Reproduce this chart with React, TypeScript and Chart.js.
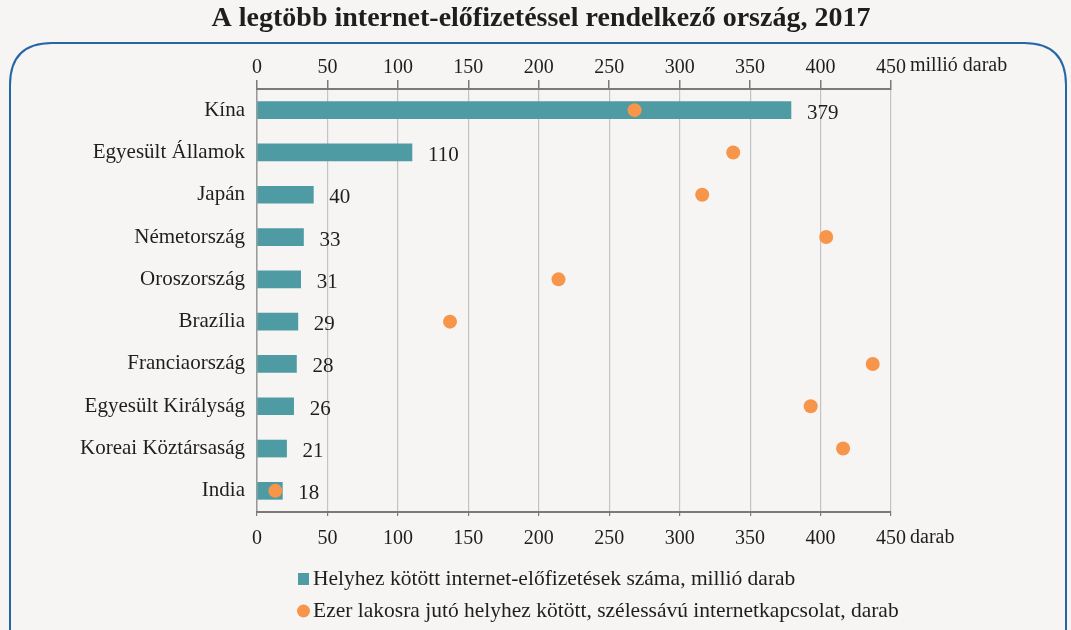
import React, { useEffect, useRef } from "react";
import { Chart, registerables } from "chart.js";

Chart.register(...registerables);

const titleText = "A legtöbb internet-előfizetéssel rendelkező ország, 2017";
const categories = [
  "Kína",
  "Egyesült Államok",
  "Japán",
  "Németország",
  "Oroszország",
  "Brazília",
  "Franciaország",
  "Egyesült Királyság",
  "Koreai Köztársaság",
  "India",
];
const subscriptions = [379, 110, 40, 33, 31, 29, 28, 26, 21, 18];
const perThousand = [268, 338, 316, 404, 214, 137, 437, 393, 416, 13];
const axisMin = 0;
const axisMax = 450;
const axisStep = 50;
const topUnit = "millió darab";
const bottomUnit = "darab";
const seriesNames = [
  "Helyhez kötött internet-előfizetések száma, millió darab",
  "Ezer lakosra jutó helyhez kötött, szélessávú internetkapcsolat, darab",
];

const FONT = "'Liberation Serif', 'DejaVu Serif', serif";
const BG = "#f6f5f3";
const TEAL = "#4e9ba3";
const ORANGE = "#f7964a";
const TEXT = "#1e1e1e";

const decorPlugin = {
  id: "decor",
  beforeDraw(chart: any) {
    const ctx = chart.ctx;
    ctx.save();
    ctx.fillStyle = BG;
    ctx.fillRect(0, 0, chart.width, chart.height);
    // rounded frame
    const x0 = 10, y0 = 43, x1 = 1066, y1 = 680, r = 42;
    ctx.strokeStyle = "#2566a8";
    ctx.lineWidth = 2;
    ctx.beginPath();
    ctx.moveTo(x0, y1);
    ctx.lineTo(x0, y0 + r);
    ctx.quadraticCurveTo(x0, y0, x0 + r, y0);
    ctx.lineTo(x1 - r, y0);
    ctx.quadraticCurveTo(x1, y0, x1, y0 + r);
    ctx.lineTo(x1, y1);
    ctx.stroke();
    // title
    ctx.fillStyle = TEXT;
    ctx.font = `bold 28px ${FONT}`;
    ctx.textAlign = "center";
    ctx.textBaseline = "middle";
    ctx.fillText(titleText, 541, 19);
    ctx.restore();
  },
  afterDatasetsDraw(chart: any) {
    const ctx = chart.ctx;
    ctx.save();
    ctx.fillStyle = TEXT;
    ctx.font = `21px ${FONT}`;
    ctx.textAlign = "left";
    ctx.textBaseline = "middle";
    const meta = chart.getDatasetMeta(0);
    meta.data.forEach((el: any, i: number) => {
      ctx.fillText(String(subscriptions[i]), el.x + 16, el.y + 3);
    });
    ctx.restore();
  },
  afterDraw(chart: any) {
    const ctx = chart.ctx;
    ctx.save();
    ctx.fillStyle = TEXT;
    ctx.font = `20px ${FONT}`;
    ctx.textBaseline = "middle";
    ctx.textAlign = "left";
    const lastW = ctx.measureText(String(axisMax)).width;
    const top = chart.scales.x2;
    const bot = chart.scales.x;
    const px = top.getPixelForValue(axisMax) + lastW / 2 + 4;
    ctx.fillText(topUnit, px, 66);
    const pb = bot.getPixelForValue(axisMax) + lastW / 2 + 4;
    ctx.fillText(bottomUnit, pb, 538);
    // legend
    ctx.font = `21.5px ${FONT}`;
    ctx.fillStyle = TEAL;
    ctx.fillRect(298, 573, 11, 12);
    ctx.fillStyle = ORANGE;
    ctx.beginPath();
    ctx.arc(303.5, 611, 6.5, 0, Math.PI * 2);
    ctx.fill();
    ctx.fillStyle = TEXT;
    ctx.fillText(seriesNames[0], 313, 579);
    ctx.fillText(seriesNames[1], 313, 611);
    ctx.restore();
  },
};

export default function App() {
  const ref = useRef<HTMLCanvasElement | null>(null);
  useEffect(() => {
    if (!ref.current) return;
    Chart.defaults.font.family = FONT;
    Chart.defaults.color = TEXT;
    const chart = new Chart(ref.current, {
      type: "bar",
      data: {
        labels: categories,
        datasets: [
          {
            type: "bar",
            label: seriesNames[0],
            data: subscriptions,
            backgroundColor: TEAL,
            barThickness: 17,
            xAxisID: "x",
            order: 2,
          },
          {
            type: "line",
            label: seriesNames[1],
            data: perThousand,
            showLine: false,
            pointRadius: 7,
            pointBackgroundColor: ORANGE,
            pointBorderColor: ORANGE,
            pointBorderWidth: 0,
            backgroundColor: ORANGE,
            borderColor: ORANGE,
            xAxisID: "x",
            indexAxis: "y",
            order: 1,
          } as any,
        ],
      },
      options: {
        indexAxis: "y",
        animation: false,
        responsive: false,
        devicePixelRatio: 1,
        layout: { padding: { left: 0, top: 0, right: 180, bottom: 0 } },
        plugins: {
          legend: { display: false },
          title: { display: false },
          tooltip: { enabled: false },
        },
        scales: {
          y: {
            type: "category",
            offset: true,
            afterFit: (s: any) => {
              s.width = 257;
            },
            grid: { display: false, drawTicks: false },
            border: { display: true, color: "#9a9a9a", width: 1.5 },
            ticks: { font: { size: 21, family: FONT }, color: TEXT, padding: 12 },
          },
          x: {
            type: "linear",
            position: "bottom",
            min: axisMin,
            max: axisMax,
            afterFit: (s: any) => {
              s.height = 118;
            },
            grid: { color: "#c3c3c3", lineWidth: 1.2, tickLength: 4, tickColor: "#7a7a7a" },
            border: { display: true, color: "#7a7a7a", width: 2 },
            ticks: { stepSize: axisStep, font: { size: 20, family: FONT }, color: TEXT, padding: 11, maxRotation: 0 },
          },
          x2: {
            type: "linear",
            position: "top",
            min: axisMin,
            max: axisMax,
            afterFit: (s: any) => {
              s.height = 89;
            },
            grid: { drawOnChartArea: false, tickLength: 9, tickColor: "#7a7a7a", lineWidth: 1.5 },
            border: { display: true, color: "#7a7a7a", width: 2 },
            ticks: { stepSize: axisStep, font: { size: 20, family: FONT }, color: TEXT, padding: 0, maxRotation: 0 },
          },
        },
      } as any,
      plugins: [decorPlugin],
    });
    return () => chart.destroy();
  }, []);
  return (
    <div style={{ position: "fixed", left: 0, top: 0, width: 1071, height: 630, background: BG }}>
      <canvas ref={ref} width={1071} height={630} style={{ display: "block" }} />
    </div>
  );
}
